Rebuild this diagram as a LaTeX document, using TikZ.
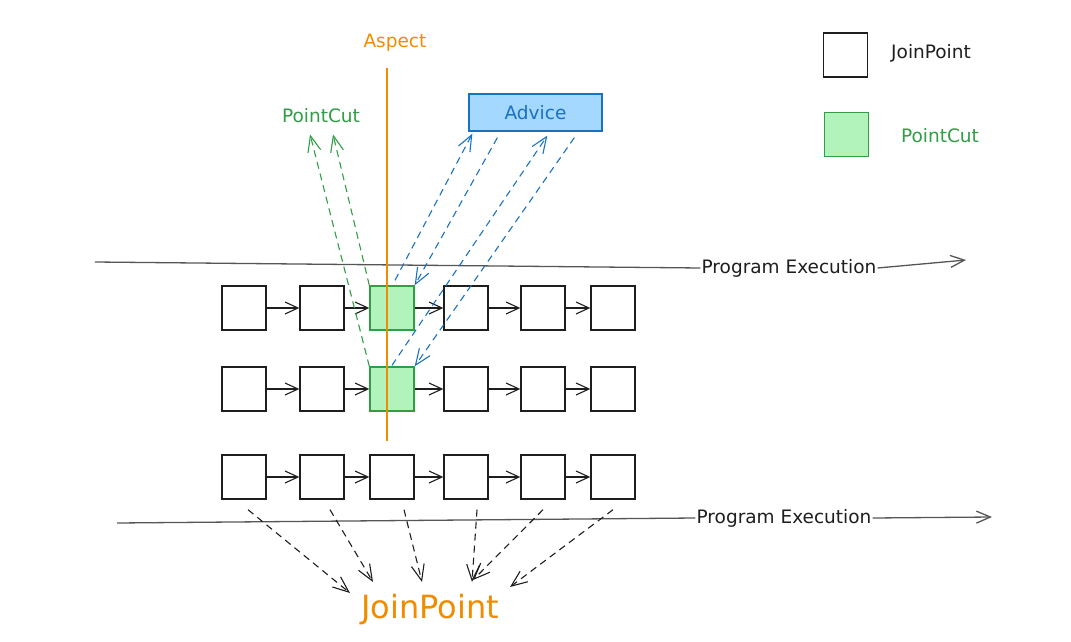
\documentclass[tikz,border=0pt]{standalone}
\usepackage{fontspec}
\setmainfont{DejaVu Sans}
\usetikzlibrary{arrows.meta}
\definecolor{inkblack}{HTML}{1E1E1E}
\definecolor{asporange}{HTML}{F08C00}
\definecolor{pcgreen}{HTML}{2F9E44}
\definecolor{pcfill}{HTML}{B2F2BB}
\definecolor{advblue}{HTML}{1971C2}
\definecolor{advfill}{HTML}{A5D8FF}
\tikzset{
  jpbox/.style={draw=inkblack, line width=1.4pt, fill=white, minimum size=44pt, inner sep=0pt},
  pcbox/.style={jpbox, draw=pcgreen, fill=pcfill},
  flow/.style={draw=inkblack, line width=1.1pt, -{Straight Barb[length=13pt,width=12pt]}},
  pcarrow/.style={draw=pcgreen, line width=1.1pt, dashed, dash pattern=on 7pt off 5pt, -{Straight Barb[length=16pt,width=13pt]}},
  advarrow/.style={draw=advblue, line width=1.1pt, dashed, dash pattern=on 7pt off 5pt, -{Straight Barb[length=16pt,width=13pt]}},
  jparrow/.style={draw=inkblack, line width=1.1pt, dashed, dash pattern=on 7pt off 5pt, -{Straight Barb[length=16pt,width=13pt]}},
  exec/.style={draw=inkblack!75, line width=1.3pt},
  lbl/.style={font=\fontsize{18.5}{22}\selectfont, inner sep=1pt}
}
\begin{document}
\begin{tikzpicture}[x=1pt,y=-1pt]
  \useasboundingbox (0,0) rectangle (1071,642);
  % program execution lines
  \coordinate (ex1a) at (95,262);
  \coordinate (ex1b) at (966,260);
  \node[lbl, text=inkblack] (ex1) at (789,268) {Program Execution};
  \draw[exec] (ex1a) -- (ex1.west);
  \draw[exec, -{Straight Barb[length=14pt,width=12pt]}] (ex1.east) -- (ex1b);
  \coordinate (ex2a) at (117,523);
  \coordinate (ex2b) at (992,517);
  \node[lbl, text=inkblack] (ex2) at (784,518) {Program Execution};
  \draw[exec] (ex2a) -- (ex2.west);
  \draw[exec, -{Straight Barb[length=14pt,width=12pt]}] (ex2.east) -- (ex2b);
  % join points, three rows
  \foreach \r/\y in {1/308,2/389,3/477} {
    \foreach \c/\x in {1/244,2/322,3/392,4/466,5/543,6/613}
      \node[jpbox] (r\r c\c) at (\x,\y) {};
    \foreach \c [evaluate=\c as \n using int(\c+1)] in {1,...,5}
      \draw[flow] (r\r c\c.east) -- (r\r c\n.west);
  }
  \node[pcbox] at (r1c3) {};
  \node[pcbox] at (r2c3) {};
  % aspect
  \coordinate (asptop) at (387,68);
  \coordinate (aspbot) at (387,441);
  \draw[asporange, line width=1.2pt] (asptop) -- (aspbot);
  \node[lbl, text=asporange] (asp) at (395,43) {Aspect};
  % pointcut
  \node[lbl, text=pcgreen] (pc) at (321,116) {PointCut};
  \draw[pcarrow] (r1c3.north west) -- ([shift={(12,10)}]pc.south);
  \draw[pcarrow] (r2c3.north west) -- ([shift={(-11,10)}]pc.south);
  % advice
  \node[draw=advblue, fill=advfill, line width=1.3pt, minimum width=133pt, minimum height=37pt,
        lbl, text=advblue] (adv) at (535.5,112.5) {Advice};
  \draw[advarrow] ([shift={(3,-5)}]r1c3.north) -- ([shift={(4,2)}]adv.south west);
  \draw[advarrow] ([shift={(29,6)}]adv.south west) -- (r1c3.north east);
  \draw[advarrow] ([shift={(0,-1)}]r2c3.north) -- ([shift={(79,4)}]adv.south west);
  \draw[advarrow] ([shift={(106,6)}]adv.south west) -- (r2c3.north east);
  % joinpoint label
  \node[text=asporange, font=\fontsize{32}{36}\selectfont] (jpl) at (430,610) {JoinPoint};
  \foreach \c/\dx/\tx/\ty in {1/4/-80/-17,2/8/-57/-28,3/12/-8/-28,4/11/42/-28,5/0/43/-30,6/0/80/-23}
    \draw[jparrow] ([shift={(\dx,10)}]r3c\c.south) -- ([shift={(\tx,\ty)}]jpl.center);
  % legend
  \node[jpbox] (lgj) at (845.5,55) {};
  \node[lbl, text=inkblack] (lgjt) at (931,53) {JoinPoint};
  \node[pcbox] (lgp) at (846.5,134.5) {};
  \node[lbl, text=pcgreen] (lgpt) at (940,136) {PointCut};
\end{tikzpicture}
\end{document}
